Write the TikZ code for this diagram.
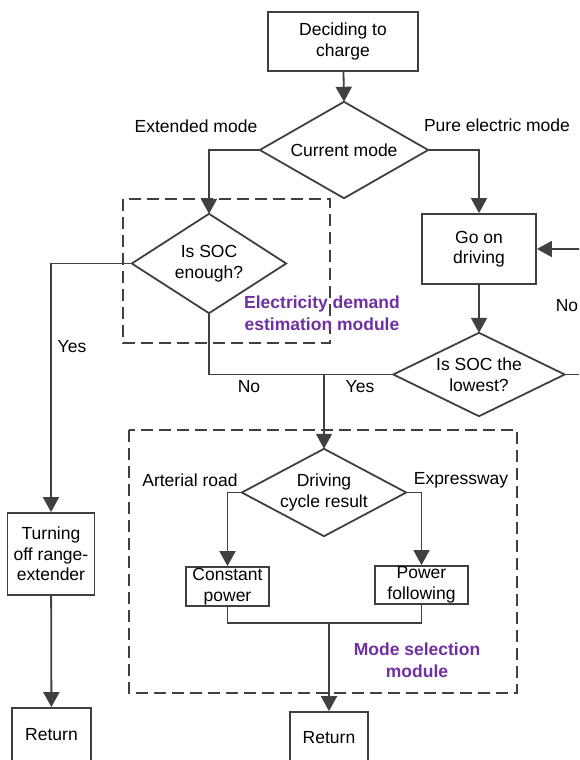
\documentclass[tikz,border=0pt]{standalone}
\usepackage{fontspec}
\setmainfont{Liberation Sans}
\usetikzlibrary{arrows.meta}
\definecolor{ln}{HTML}{404040}
\definecolor{modpurple}{HTML}{7030A0}
\begin{document}
\begin{tikzpicture}[x=1pt,y=-1pt,
  every node/.style={font=\fontsize{17.5}{20.5}\selectfont},
  box/.style={draw=ln,line width=1.8pt,fill=white,align=center,inner sep=0pt},
  dia/.style={align=center,inner sep=0pt},
  diaedge/.style={draw=ln,line width=1.8pt,line join=miter},
  conn/.style={draw=ln,line width=1.8pt},
  arr/.style={conn,-{Triangle[length=15pt,width=16pt]}},
  dashbox/.style={draw=ln,line width=1.6pt,dash pattern=on 12pt off 6pt},
  lbl/.style={inner sep=0pt},
  mlbl/.style={inner sep=0pt,text=modpurple,font=\fontsize{17.5}{21.5}\selectfont\bfseries,align=center}]
\clip (0,0) rectangle (579,760);
\fill[white] (0,0) rectangle (579,760);

% dashed module frames
\draw[dashbox] (123,199) rectangle (330,343);
\draw[dashbox] (129,430) rectangle (517,693);

% nodes
\node[box,minimum width=150pt,minimum height=59pt] (start) at (343,41.5) {Deciding to\\charge};
\node[dia,minimum width=168pt,minimum height=96pt] (mode) at (344,150) {Current mode};
\node[dia,minimum width=154pt,minimum height=99pt] (soc1) at (209,263.5) {Is SOC\\enough?};
\node[box,minimum width=114pt,minimum height=70pt] (drive) at (479,249) {Go on\\driving};
\node[dia,minimum width=171pt,minimum height=83pt] (lowest) at (479,374.5) {Is SOC the\\lowest?};
\node[box,minimum width=87pt,minimum height=82pt] (off) at (51,554) {Turning\\off range-\\extender};
\node[box,minimum width=79pt,minimum height=54pt] (ret1) at (51.5,735) {Return};
\node[dia,minimum width=164pt,minimum height=87pt] (cycle) at (324,492.5) {Driving\\cycle result};
\node[box,minimum width=83pt,minimum height=39pt] (cp) at (227.5,586.5) {Constant\\power};
\node[box,minimum width=93pt,minimum height=38pt] (pf) at (421.5,585) {Power\\following};
\node[box,minimum width=78pt,minimum height=52pt] (ret2) at (329,738) {Return};

% diamond outlines
\foreach \d in {mode,soc1,lowest,cycle}
  \draw[diaedge] (\d.north) -- (\d.east) -- (\d.south) -- (\d.west) -- cycle;

\coordinate (j1) at (324,374.5);
\coordinate (loopR) at (595,374.5);
\coordinate (merge) at (329,623);

% connectors
\draw[arr] (start) -- (mode.north);
\draw[arr] (mode.west) -| (soc1.north);
\draw[arr] (mode.east) -| (drive.north);
\draw[arr] (soc1.west) -| (off.north);
\draw[arr] (off) -- (ret1);
\draw[conn] (soc1.south) |- (lowest.west);
\draw[arr] (j1) -- (cycle.north);
\draw[arr] (drive) -- (lowest.north);
\draw[arr] (lowest.east) -- (loopR) |- (drive.east);
\draw[arr] (cycle.west) -| (cp.north);
\draw[arr] (cycle.east) -| (pf.north);
\draw[conn] (cp.south) |- (merge) -| (pf.south);
\draw[arr] (merge) -- (ret2.north);

% labels
\node[lbl] (lext) at (196,126) {Extended mode};
\node[lbl] (lpure) at (497,125) {Pure electric mode};
\node[lbl] (lyes1) at (72,347) {Yes};
\node[lbl] (lno1) at (249,387) {No};
\node[lbl] (lyes2) at (360,387) {Yes};
\node[lbl] (lno2) at (567,306) {No};
\node[lbl] (lart) at (190,480) {Arterial road};
\node[lbl] (lexp) at (461,480) {Expressway};
\node[mlbl] (mod1) at (322,313) {Electricity demand\\estimation module};
\node[mlbl] (mod2) at (417,660) {Mode selection\\module};
\end{tikzpicture}
\end{document}
